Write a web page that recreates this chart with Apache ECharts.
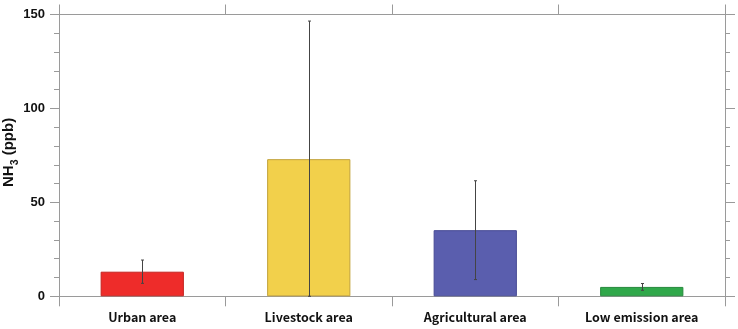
<!DOCTYPE html>
<html><head><meta charset="utf-8">
<script src="https://cdn.jsdelivr.net/npm/echarts@6/dist/echarts.min.js"></script>
<style>html,body{margin:0;padding:0;background:#fff}#c{width:738px;height:329px}</style>
</head><body><div id="c"></div>
<script>
const categories = ['Urban area', 'Livestock area', 'Agricultural area', 'Low emission area'];
const means = [13.1, 73.0, 35.2, 5.0];
const sds = [6.2, 73.5, 26.3, 1.8];
const barColors = ['#EE2C2A', '#F2D04B', '#5A5EAE', '#30A84A'];
const barBorders = ['#C42420', '#C2A23A', '#474A95', '#268A3C'];
const yTicks = [0, 50, 100, 150];

const axisGray = '#9a9a9a';
const chart = echarts.init(document.getElementById('c'), null, {renderer: 'canvas'});

const barData = means.map((v, i) => ({
  value: v,
  itemStyle: {color: barColors[i], borderColor: barBorders[i], borderWidth: 1}
}));
const errData = means.map((v, i) => [i, Math.max(0, v - sds[i]), v + sds[i]]);

chart.setOption({
  animation: false,
  grid: {left: 59, right: 13, top: 14.5, bottom: 32.7, containLabel: false, outerBoundsMode: 'none'},
  xAxis: [{
    type: 'category', data: categories, position: 'bottom',
    axisLine: {onZero: false, lineStyle: {color: axisGray}},
    axisTick: {show: true, length: 10, lineStyle: {color: axisGray}},
    axisLabel: {margin: 15, interval: 0, color: '#111', fontWeight: 'bold', fontSize: 12.5,
      fontFamily: '"Noto Sans CJK KR", "Noto Sans", sans-serif'}
  }, {
    type: 'category', data: categories, position: 'top',
    axisLine: {onZero: false, lineStyle: {color: axisGray}},
    axisTick: {show: true, length: 10, lineStyle: {color: axisGray}},
    axisLabel: {show: false}
  }],
  yAxis: [{
    type: 'value', min: 0, max: 150, interval: 50, position: 'left',
    axisLine: {show: true, onZero: false, lineStyle: {color: axisGray}},
    axisTick: {show: true, length: 9, lineStyle: {color: axisGray}},
    minorTick: {show: true, splitNumber: 5, length: 5, lineStyle: {color: axisGray}},
    splitLine: {show: false},
    axisLabel: {margin: 14, color: '#111', fontWeight: 'bold', fontSize: 13,
      fontFamily: '"Liberation Sans", Arial, sans-serif',
      formatter: v => yTicks.includes(v) ? String(v) : ''},
    name: 'NH{sub|3} (ppb)', nameLocation: 'middle', nameRotate: 90, nameGap: 38,
    nameMoveOverlap: false,
    nameTextStyle: {color: '#111', fontWeight: 'bold', fontSize: 15, padding: [0, 0, 0, 6],
      fontFamily: '"Liberation Sans", Arial, sans-serif',
      rich: {sub: {fontSize: 10.5, fontWeight: 'bold', verticalAlign: 'bottom', padding: [14, 0, 0, 0],
        fontFamily: '"Liberation Sans", Arial, sans-serif', color: '#111'}}}
  }, {
    type: 'value', min: 0, max: 150, interval: 50, position: 'right',
    axisLine: {show: true, onZero: false, lineStyle: {color: axisGray}},
    axisTick: {show: true, length: 10, lineStyle: {color: axisGray}},
    minorTick: {show: true, splitNumber: 5, length: 5, lineStyle: {color: axisGray}},
    splitLine: {show: false},
    axisLabel: {show: false}
  }],
  series: [{
    type: 'bar', data: barData, barWidth: '50%', xAxisIndex: 0, yAxisIndex: 0
  }, {
    type: 'custom', xAxisIndex: 0, yAxisIndex: 0, data: errData, z: 10,
    renderItem: function (params, api) {
      const x = api.value(0);
      const lo = api.coord([x, api.value(1)]);
      const hi = api.coord([x, api.value(2)]);
      const cx = Math.round(lo[0]) + 0.5;
      const cap = 1.5;
      const st = {stroke: '#444', lineWidth: 1};
      return {type: 'group', children: [
        {type: 'line', shape: {x1: cx, y1: lo[1], x2: cx, y2: hi[1]}, style: st},
        {type: 'line', shape: {x1: cx - cap, y1: hi[1], x2: cx + cap, y2: hi[1]}, style: st},
        {type: 'line', shape: {x1: cx - cap, y1: lo[1], x2: cx + cap, y2: lo[1]}, style: st}
      ]};
    }
  }]
});
</script></body></html>
